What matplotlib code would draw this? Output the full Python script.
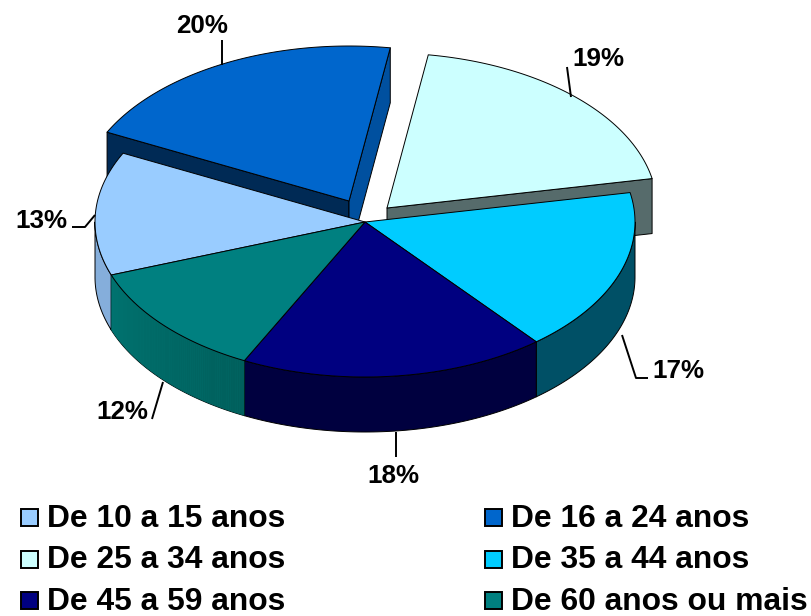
#!/usr/bin/python3

import numpy as np
from matplotlib import pyplot as plt
from matplotlib.colors import to_rgb
from matplotlib.patches import Polygon, Rectangle

plt.rcParams['font.family'] = ['Liberation Sans', 'DejaVu Sans']

# categories and values, in the order of the legend
categories = ["De 10 a 15 anos", "De 16 a 24 anos", "De 25 a 34 anos",
              "De 35 a 44 anos", "De 45 a 59 anos", "De 60 anos ou mais"]
values = [12.8, 20.0, 19.4, 17.0, 18.2, 12.0]
labels = ["13%", "20%", "19%", "17%", "18%", "12%"]

top_colors = ["#99ccff", "#0066cc", "#ccffff", "#00ccff", "#000080", "#008080"]
wall_colors = ["#85aedb", "#00509f", "#566b6b", "#005066", "#00003f", "#00726f"]
wall_fade = [None, None, None, None, None, "#005f5c"]
cut_colors = [None, "#002a55", "#566b6b", None, None, None]

# pie geometry, in picture pixels
cx, cy = 365, 222
rx, ry = 270, 155
depth = 55
start = 160
explode = [(0, 0), (-16, -21), (22, -14), (0, 0), (0, 0), (0, 0)]

# leader lines and labels
label_pos = [(41, 221), (202, 26), (598, 59), (678, 371), (393, 476), (122, 412)]
leaders = [[(72, 227), (85, 227), (95, 215)],
           [(222, 40), (222, 65)],
           [(567, 67), (571, 97)],
           [(622, 335), (636, 378), (648, 378)],
           [(396, 432), (396, 457)],
           [(163, 382), (152, 419)]]

figure = plt.figure(figsize=(8.12, 6.16), dpi=100)
ax = figure.add_axes([0, 0, 1, 1])
ax.set_xlim(0, 812)
ax.set_ylim(616, 0)
ax.axis('off')


def arc(t0, t1, dx, dy, down=0):
	t = np.radians(np.linspace(t0, t1, 80))
	return np.column_stack((cx + dx + rx * np.cos(t), cy + dy + down + ry * np.sin(t)))


def draw(pts, color, z):
	ax.add_patch(Polygon(pts, closed=True, facecolor=color, edgecolor='black',
	                     linewidth=0.7, joinstyle='round', zorder=z))


angles = start + np.cumsum([0] + values) * 360.0 / sum(values)

# exploded slices go behind the rest of the pie
for i in [1, 2]:
	t0, t1 = angles[i], angles[i + 1]
	dx, dy = explode[i]
	apex = (cx + dx, cy + dy)
	z = 1 + i
	outer = arc(t0, t1, dx, dy)
	if i == 1:
		# wall on the left cut and wall on the right cut
		end = outer[0]
		draw([apex, end, end + (0, depth), (apex[0], apex[1] + depth)], cut_colors[i], z)
		end = outer[-1]
		draw([apex, end, end + (0, depth), (apex[0], apex[1] + depth)], wall_colors[i], z)
	else:
		end = outer[-1]
		draw([apex, end, end + (0, depth), (apex[0], apex[1] + depth)], cut_colors[i], z)
	draw(np.vstack(([apex], outer)), top_colors[i], z + 0.5)

# walls of the front of the pie, then the tops
for i in [0, 3, 4, 5]:
	for lo, hi in [(angles[i], angles[i + 1]), (angles[i] - 360, angles[i + 1] - 360)]:
		t0, t1 = max(lo, 0), min(hi, 180)
		if t0 < t1:
			upper = arc(t0, t1, 0, 0)
			lower = arc(t0, t1, 0, 0, depth)
			draw(np.vstack((upper, lower[::-1])), wall_colors[i], 5)
			if wall_fade[i] is not None:
				# darker towards the lower end of the angle range
				c0, c1 = np.array(to_rgb(wall_fade[i])), np.array(to_rgb(wall_colors[i]))
				for k in range(len(upper) - 1):
					f = k / (len(upper) - 2)
					ax.add_patch(Polygon([upper[k], upper[k + 1], lower[k + 1], lower[k]],
					                     closed=True, facecolor=c0 + (c1 - c0) * f,
					                     edgecolor='none', linewidth=0, zorder=5.1))
for i in [0, 3, 4, 5]:
	draw(np.vstack(([(cx, cy)], arc(angles[i], angles[i + 1], 0, 0))), top_colors[i], 6)

# percent labels with their leader lines
for label, (x, y), line in zip(labels, label_pos, leaders):
	ax.text(x, y, label, ha='center', va='center', fontsize=18.7, fontweight='bold', zorder=8)
	xs, ys = zip(*line)
	ax.plot(xs, ys, color='black', linewidth=1.4, zorder=7, solid_capstyle='butt')

# legend, two columns
for i, name in enumerate(categories):
	col, row = i % 2, i // 2
	x = 21 + col * 464
	y = 517 + row * 41.5
	ax.add_patch(Rectangle((x, y - 8), 17, 17, facecolor=top_colors[i], edgecolor='black', linewidth=1.4))
	ax.text(x + 26, y + 10, name, ha='left', va='baseline', fontsize=22.9, fontweight='bold')

figure.savefig("out.png", dpi=100)
plt.close()
